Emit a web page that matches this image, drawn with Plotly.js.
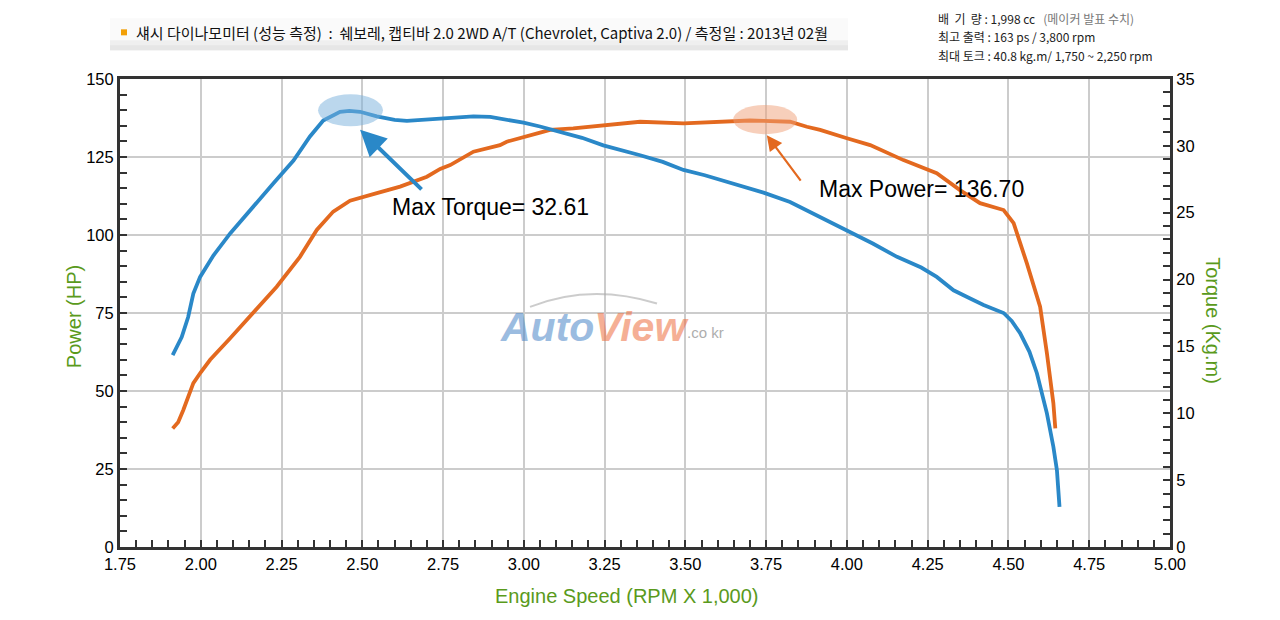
<!DOCTYPE html>
<html>
<head>
<meta charset="utf-8">
<script src="https://cdn.plot.ly/plotly-3.0.1.min.js"></script>
<style>html,body{margin:0;padding:0;background:#fff;}#chart{width:1280px;height:620px;}</style>
</head>
<body>
<div id="chart"></div>
<script>
// Engine speed (x 1,000 rpm) and torque (kg.m)
const torqueRpm = [1.913,1.925,1.941,1.961,1.977,1.998,2.039,2.091,2.152,2.225,2.287,2.338,2.379,2.431,2.460,2.493,2.545,2.600,2.638,2.700,2.741,2.803,2.844,2.896,2.950,2.999,3.050,3.102,3.180,3.246,3.300,3.360,3.430,3.494,3.560,3.618,3.680,3.742,3.824,3.917,4.000,4.080,4.155,4.230,4.278,4.330,4.380,4.423,4.485,4.510,4.536,4.565,4.588,4.605,4.619,4.639,4.650,4.658];
const torque = [14.35,14.9,15.7,17.2,18.96,20.2,21.8,23.45,25.2,27.2,28.9,30.7,31.9,32.55,32.61,32.55,32.2,31.95,31.87,31.97,32.04,32.1,32.2,32.16,31.95,31.74,31.45,31.1,30.6,30.04,29.7,29.3,28.8,28.2,27.8,27.4,27.0,26.5,25.8,24.7,23.7,22.7,21.7,20.9,20.2,19.2,18.6,18.1,17.5,16.9,16.0,14.6,13.0,11.4,10.0,7.5,5.75,3.0];
// Engine speed (x 1,000 rpm) and power (HP)
const powerRpm = [1.913,1.930,1.946,1.962,1.977,2.000,2.029,2.091,2.152,2.235,2.307,2.359,2.410,2.462,2.545,2.617,2.700,2.741,2.772,2.844,2.926,2.947,3.053,3.081,3.153,3.257,3.360,3.494,3.618,3.700,3.742,3.824,3.876,3.917,4.000,4.072,4.175,4.278,4.350,4.412,4.485,4.516,4.557,4.598,4.619,4.639,4.645];
const power = [38.0,40.0,43.9,48.5,52.5,56.0,60.0,66.9,73.8,83.4,93.0,101.6,107.5,111.0,113.4,115.5,118.7,121.2,122.4,126.7,128.8,129.9,132.9,133.7,134.2,135.3,136.3,135.8,136.5,136.7,136.6,136.3,134.7,133.7,131.0,128.8,124.0,119.8,114.4,110.2,108.0,103.8,90.9,77.0,62.1,46.1,38.0];

const xTicks = [1.75,2.00,2.25,2.50,2.75,3.00,3.25,3.50,3.75,4.00,4.25,4.50,4.75,5.00];
const xTickText = ['1.75','2.00','2.25','2.50','2.75','3.00','3.25','3.50','3.75','4.00','4.25','4.50','4.75','5.00'];
const maxTorqueLabel = 'Max Torque= 32.61';
const maxPowerLabel = 'Max Power= 136.70';
const titleText = '섀시 다이나모미터 (성능 측정)  :  쉐보레, 캡티바 2.0 2WD A/T (Chevrolet, Captiva 2.0) / 측정일 : 2013년 02월';
const specLines = [
  '배  기  량 : 1,998 cc   <span style="color:#777">(메이커 발표 수치)</span>',
  '최고 출력 : 163 ps / 3,800 rpm',
  '최대 토크 : 40.8 kg.m/ 1,750 ~ 2,250 rpm'
];

const BLUE = '#2a88c8', ORANGE = '#e3691f', GREEN = '#5a9a1c', AX = '#333333';
const LAT = 'Liberation Sans, Arial, sans-serif';
const tickFont = {family:LAT, size:16.5, color:'#000'};

const traces = [
  {x: powerRpm, y: power, type:'scatter', mode:'lines', name:'Power', line:{color:ORANGE, width:3.8}, xaxis:'x', yaxis:'y'},
  {x: torqueRpm, y: torque, type:'scatter', mode:'lines', name:'Torque', line:{color:BLUE, width:3.8}, xaxis:'x', yaxis:'y2'}
];

function P(px, py){ return {x:(px-120)/1050, y:(547-py)/468.3}; }

const annotations = [
  {xref:'paper', yref:'paper', x:P(134,0).x, y:P(0,32).y, xanchor:'left', yanchor:'middle', showarrow:false,
   text:titleText, font:{family:'Noto Sans CJK KR, sans-serif', size:15, color:'#111'}},
  {xref:'x', yref:'y2', x:2.896, y:25.4, xanchor:'center', yanchor:'middle', showarrow:false, text:maxTorqueLabel, font:{family:LAT, size:23, color:'#000'}},
  {xref:'x', yref:'y', x:4.231, y:114.9, xanchor:'center', yanchor:'middle', showarrow:false, text:maxPowerLabel, font:{family:LAT, size:23, color:'#000'}},
  {xref:'x', yref:'y2', x:2.493, y:31.2, ax:63, ay:61, text:'', showarrow:true, arrowhead:2, arrowsize:1.3, arrowwidth:4, arrowcolor:BLUE},
  {xref:'x', yref:'y', x:3.752, y:132.0, ax:35, ay:47, text:'', showarrow:true, arrowhead:2, arrowsize:1.4, arrowwidth:2.2, arrowcolor:ORANGE},
  {xref:'paper', yref:'paper', x:P(627,0).x, y:P(0,596).y, xanchor:'center', yanchor:'middle', showarrow:false, text:'Engine Speed (RPM X 1,000)', font:{family:LAT, size:20, color:GREEN}},
  {xref:'paper', yref:'paper', x:P(74,0).x, y:P(0,317).y, xanchor:'center', yanchor:'middle', showarrow:false, textangle:-90, text:'Power (HP)', font:{family:LAT, size:20, color:GREEN}},
  {xref:'paper', yref:'paper', x:P(1213,0).x, y:P(0,320).y, xanchor:'center', yanchor:'middle', showarrow:false, textangle:90, text:'Torque (Kg.m)', font:{family:LAT, size:20, color:GREEN}},
  // watermark
  {xref:'paper', yref:'paper', x:P(594,0).x, y:P(0,327).y, xanchor:'center', yanchor:'middle', showarrow:false, opacity:0.55,
   text:'<b><i><span style="color:#4a86c8">Auto</span><span style="color:#ee6e40">View</span></i></b>', font:{family:LAT, size:41, color:'#4a86c8'}},
  {xref:'paper', yref:'paper', x:P(705,0).x, y:P(0,332).y, xanchor:'center', yanchor:'middle', showarrow:false, opacity:0.6,
   text:'.co kr', font:{family:LAT, size:15, color:'#777'}}
];
specLines.forEach((t,i)=>{
  annotations.push({xref:'paper', yref:'paper', x:P(936,0).x, y:P(0,18+i*18.5).y, xanchor:'left', yanchor:'middle', showarrow:false,
    text:t, font:{family:'Noto Sans CJK KR, sans-serif', size:12, color:'#222'}});
});

const shapes = [
  // title bar
  {type:'rect', xref:'paper', yref:'paper', x0:P(110,0).x, x1:P(848,0).x, y0:P(0,50).y, y1:P(0,18).y, fillcolor:'#fafafa', line:{width:0}, layer:'below'},
  {type:'rect', xref:'paper', yref:'paper', x0:P(110,0).x, x1:P(848,0).x, y0:P(0,50).y, y1:P(0,40).y, fillcolor:'#efefef', line:{width:0}, layer:'below'},
  {type:'rect', xref:'paper', yref:'paper', x0:P(110,0).x, x1:P(848,0).x, y0:P(0,50).y, y1:P(0,45).y, fillcolor:'#e6e6e6', line:{width:0}, layer:'below'},
  {type:'rect', xref:'paper', yref:'paper', x0:P(121,0).x, x1:P(127,0).x, y0:P(0,35).y, y1:P(0,29).y, fillcolor:'#f2a007', line:{width:0}},
  // highlight ellipses
  {type:'circle', xref:'x', yref:'y2', x0:2.363, x1:2.564, y0:31.46, y1:33.86, fillcolor:'rgba(120,175,220,0.5)', line:{width:0}},
  {type:'circle', xref:'x', yref:'y', x0:3.648, x1:3.846, y0:132.3, y1:141.7, fillcolor:'rgba(240,160,120,0.5)', line:{width:0}},
  // watermark swoosh
  {type:'path', xref:'paper', yref:'paper', path:'M 0.3905 0.5131 Q 0.4476 0.5644 0.5114 0.5204', line:{color:'rgba(170,170,170,0.6)', width:2}}
];

const layout = {
  width:1280, height:620,
  margin:{l:120, r:110, t:79, b:73, pad:0},
  paper_bgcolor:'#ffffff', plot_bgcolor:'#ffffff',
  showlegend:false,
  xaxis:{range:[1.75,5.0], tickvals:xTicks, ticktext:xTickText, showgrid:true, gridcolor:'#cccccc', gridwidth:2,
         showline:true, linecolor:AX, linewidth:3, mirror:true, ticks:'inside', ticklen:7, tickwidth:2, tickcolor:AX,
         minor:{dtick:0.05, ticks:'inside', ticklen:7, tickwidth:2, tickcolor:AX, showgrid:false},
         tickfont:tickFont, zeroline:false, fixedrange:true},
  yaxis:{range:[0,150], dtick:25, showgrid:true, gridcolor:'#cccccc', gridwidth:2,
         showline:true, linecolor:AX, linewidth:3, mirror:true, ticks:'inside', ticklen:7, tickwidth:2, tickcolor:AX,
         minor:{dtick:5, ticks:'inside', ticklen:7, tickwidth:2, tickcolor:AX, showgrid:false},
         tickfont:tickFont, zeroline:false, fixedrange:true},
  yaxis2:{range:[0,35], dtick:5, overlaying:'y', side:'right', showgrid:false,
         showline:true, linecolor:AX, linewidth:3, ticks:'inside', ticklen:7, tickwidth:2, tickcolor:AX,
         minor:{dtick:1, ticks:'inside', ticklen:7, tickwidth:2, tickcolor:AX, showgrid:false},
         tickfont:tickFont, zeroline:false, fixedrange:true},
  annotations: annotations,
  shapes: shapes
};

Plotly.newPlot('chart', traces, layout, {staticPlot:true, displayModeBar:false});
</script>
</body>
</html>
